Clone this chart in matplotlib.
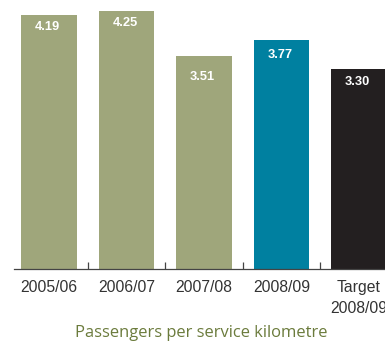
import matplotlib
matplotlib.use("Agg")
import matplotlib.pyplot as plt
from matplotlib.ticker import FixedLocator

categories = ["2005/06", "2006/07", "2007/08", "2008/09", "Target\n2008/09"]
values = [4.19, 4.25, 3.51, 3.77, 3.30]
labels = ["4.19", "4.25", "3.51", "3.77", "3.30"]

OLIVE = "#9fa67b"
BLUE = "#0080a0"
DARK = "#231f20"
bar_colors = [OLIVE, OLIVE, OLIVE, BLUE, DARK]
label_drop_px = [12, 12, 21, 15, 13]

W, H, DPI = 385, 342, 100
fig = plt.figure(figsize=(W / DPI, H / DPI), dpi=DPI)
ax = fig.add_axes([14 / W, 1 - 269 / H, (W - 14) / W, 269 / H])

x = list(range(len(values)))
ax.bar(x, values, width=0.72, color=bar_colors, zorder=2)

ax.set_xlim(-0.45, 4.335)
ax.set_ylim(0, 269 / 60.65)

for s in ["top", "right", "left"]:
    ax.spines[s].set_visible(False)
ax.spines["bottom"].set_color("#444444")
ax.spines["bottom"].set_linewidth(0.9)
ax.set_yticks([])

ax.set_xticks(x)
ax.set_xticklabels(categories, fontfamily="Liberation Sans", fontsize=11.3,
                   color="#333333", linespacing=1.45)
ax.tick_params(axis="x", which="major", length=0, pad=8)
ax.xaxis.set_minor_locator(FixedLocator([i + 0.5 for i in range(len(values) - 1)]))
ax.tick_params(axis="x", which="minor", direction="in", length=5, width=0.9,
               color="#444444")

for xi, v, lab, d in zip(x, values, labels, label_drop_px):
    ax.annotate(lab, xy=(xi, v), xytext=(-1, -d * 72 / DPI), textcoords="offset points",
                ha="center", va="center", color="white", fontsize=9.3,
                fontweight="bold", fontfamily="Liberation Sans")

fig.text(201 / W, 1 - 333 / H, "Passengers per service kilometre",
         ha="center", va="center", fontsize=11.9, color="#6b7b3c",
         fontfamily="Open Sans")

fig.savefig("out.png", dpi=DPI)
